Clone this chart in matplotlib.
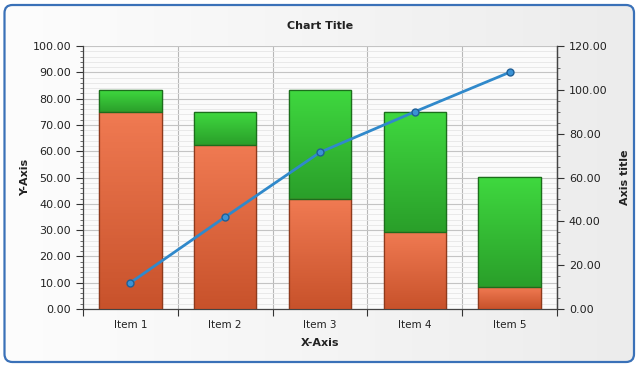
import numpy as np
import matplotlib.pyplot as plt
from matplotlib.patches import FancyBboxPatch
from matplotlib.colors import LinearSegmentedColormap
from matplotlib.ticker import MultipleLocator, FormatStrFormatter

# data
items = ['Item 1', 'Item 2', 'Item 3', 'Item 4', 'Item 5']
orange_vals = [75.0, 62.5, 41.67, 29.17, 8.33]
green_vals = [8.33, 12.5, 41.67, 45.83, 41.67]
line_vals = [12.0, 42.0, 71.5, 90.0, 108.0]

fig = plt.figure(figsize=(6.37, 3.65), dpi=100)

# background panel with rounded blue border
bg = fig.add_axes([0, 0, 1, 1], zorder=-10)
bg.set_xlim(0, 637)
bg.set_ylim(365, 0)
bg.axis('off')
frame = FancyBboxPatch((4.5, 5), 629.5, 357, boxstyle='round,pad=0,rounding_size=8',
                       facecolor='none', edgecolor='#3a71b8', lw=1.6, zorder=3)
bg.add_patch(frame)
grad = np.linspace(0, 1, 256).reshape(1, -1)
img = bg.imshow(grad, extent=[4.5, 634, 362, 5], aspect='auto',
                cmap=LinearSegmentedColormap.from_list('bgc', ['#fdfdfd', '#ececec']),
                zorder=1)
img.set_clip_path(frame)

ax = fig.add_axes([83/637, 1-309/365, 474/637, 263/365])
ax.set_facecolor('#fbfbfb')
x = np.arange(len(items))
w = 0.66


def grad_bar(ax, xc, bottom, height, c_top, c_bot, edge):
    bars = ax.bar(xc, height, w, bottom=bottom, color=c_bot, edgecolor=edge, lw=0.9, zorder=3)
    cmap = LinearSegmentedColormap.from_list('g', [c_bot, c_top])
    for b in bars:
        x0, y0 = b.get_x(), b.get_y()
        im = ax.imshow(np.linspace(0, 1, 64).reshape(-1, 1), cmap=cmap, origin='lower',
                       extent=[x0, x0 + b.get_width(), y0, y0 + b.get_height()],
                       aspect='auto', zorder=3.1)
        im.set_clip_path(b)
        # outline again above the gradient
        ax.bar(b.get_x() + b.get_width()/2, b.get_height(), b.get_width(), bottom=y0,
               color='none', edgecolor=edge, lw=0.9, zorder=3.2)


grad_bar(ax, x, 0, orange_vals, '#f07a52', '#c8522b', '#8e3a1c')
grad_bar(ax, x, orange_vals, green_vals, '#3fd83f', '#2a9f2a', '#1c6e1c')

ax.set_xlim(-0.5, 4.5)
ax.set_ylim(0, 100)
ax.yaxis.set_major_locator(MultipleLocator(10))
ax.yaxis.set_minor_locator(MultipleLocator(2))
ax.yaxis.set_major_formatter(FormatStrFormatter('%.2f'))
ax.set_xticks(np.arange(-0.5, 5, 1))
ax.set_xticklabels([])
ax.set_xticks(x, minor=True)
ax.set_xticklabels(items, minor=True)
ax.tick_params(axis='x', which='minor', length=0, pad=8, labelsize=7.5, labelcolor='#222222')
ax.tick_params(axis='x', which='major', length=5, color='#333333')
ax.tick_params(axis='y', which='major', length=5, labelsize=8, labelcolor='#222222', color='#333333')
ax.tick_params(axis='y', which='minor', length=2.5, color='#555555')

ax.grid(axis='y', which='major', color='#c4c4c4', lw=0.8, zorder=0)
ax.grid(axis='y', which='minor', color='#e6e6e6', lw=0.6, zorder=0)
ax.grid(axis='x', which='major', color='#b8b8b8', lw=0.8, zorder=0)
ax.set_axisbelow(True)
ax.spines['top'].set_visible(False)
for s in ['left', 'bottom', 'right']:
    ax.spines[s].set_color('#444444')
    ax.spines[s].set_linewidth(0.9)

ax.set_xlabel('X-Axis', fontsize=8, fontweight='bold', color='#222222', labelpad=6)
ax.set_ylabel('Y-Axis', fontsize=8, fontweight='bold', color='#222222')
ax.yaxis.set_label_coords(-0.112, 0.5)
ax.set_title('Chart Title', fontsize=8, fontweight='bold', color='#222222', pad=12)

ax2 = ax.twinx()
ax2.set_ylim(0, 120)
ax2.yaxis.set_major_locator(MultipleLocator(20))
ax2.yaxis.set_minor_locator(MultipleLocator(5))
ax2.yaxis.set_major_formatter(FormatStrFormatter('%.2f'))
ax2.tick_params(axis='y', which='major', length=5, labelsize=8, labelcolor='#222222', color='#333333')
ax2.tick_params(axis='y', which='minor', length=2.5, color='#555555')
for s in ['top', 'left', 'bottom']:
    ax2.spines[s].set_visible(False)
ax2.spines['right'].set_color('#444444')
ax2.spines['right'].set_linewidth(0.9)
ax2.plot(x, line_vals, color='#3089cb', lw=2, marker='o', ms=5,
         mfc='#3b93d6', mec='#1f5f96', mew=1, zorder=5)
ax2.set_ylabel('Axis title', fontsize=8, fontweight='bold', color='#222222', rotation=90)
ax2.yaxis.set_label_coords(1.133, 0.5)

fig.savefig('out.png', dpi=100)
